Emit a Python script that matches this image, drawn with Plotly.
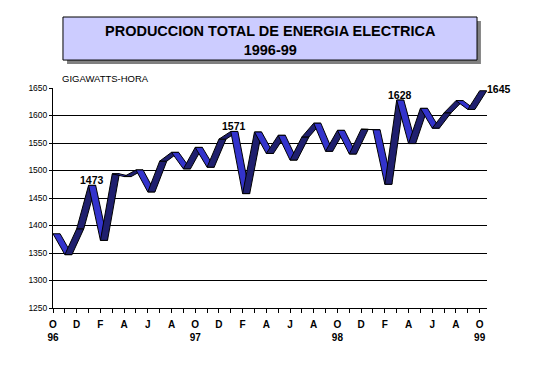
import plotly.graph_objects as go

# ---- data -------------------------------------------------------------
months = ["O96", "N96", "D96", "J97", "F97", "M97", "A97", "M97", "J97", "J97", "A97", "S97",
          "O97", "N97", "D97", "J98", "F98", "M98", "A98", "M98", "J98", "J98", "A98", "S98",
          "O98", "N98", "D98", "J99", "F99", "M99", "A99", "M99", "J99", "J99", "A99", "S99", "O99"]
values = [1385, 1347, 1394, 1473, 1373, 1494, 1489, 1501, 1461, 1517, 1533, 1503,
          1542, 1506, 1557, 1571, 1458, 1570, 1531, 1564, 1519, 1561, 1586, 1535,
          1573, 1530, 1575, 1574, 1475, 1628, 1549, 1613, 1577, 1605, 1627, 1611, 1645]
tick_letters = ["O", "D", "F", "A", "J", "A", "O", "D", "F", "A", "J", "A", "O", "D", "F", "A", "J", "A", "O"]
tick_years = {0: "96", 12: "97", 24: "98", 36: "99"}
labelled = {3: "1473", 15: "1571", 29: "1628"}
last_label = "1645"

DEPTH = 0.6            # ribbon depth, in months (horizontal offset)
FONT = "Arial, Liberation Sans, sans-serif"
DARK = "#1F1F6E"
LIGHT = "#3333CC"

fig = go.Figure()
x = list(range(len(values)))

# ribbon segments
for i in range(len(values) - 1):
    x0, x1 = x[i], x[i + 1]
    v0, v1 = values[i], values[i + 1]
    color = LIGHT if v1 < v0 else DARK
    fig.add_trace(go.Scatter(
        x=[x0, x1, x1 + DEPTH, x0 + DEPTH, x0],
        y=[v0, v1, v1, v0, v0],
        mode="lines", fill="toself", fillcolor=color,
        line=dict(color="black", width=1),
        hoverinfo="skip", showlegend=False))

# tick labels
tickvals = x
ticktext = []
for i in x:
    if i % 2 == 0:
        t = "<b>" + tick_letters[i // 2] + "</b>"
        if i in tick_years:
            t += "<br><b>" + tick_years[i] + "</b>"
        ticktext.append(t)
    else:
        ticktext.append("")

fig.update_layout(
    width=530, height=383,
    margin=dict(l=45, r=51, t=80, b=83),
    paper_bgcolor="white", plot_bgcolor="white",
    font=dict(family=FONT, color="black"),
    xaxis=dict(range=[0, 36 + DEPTH + 0.02], tickvals=tickvals, ticktext=ticktext,
               ticks="outside", ticklen=4, tickcolor="black", showgrid=False,
               showline=True, linecolor="black", linewidth=1, zeroline=False,
               ticklabelstandoff=3,
               tickfont=dict(size=10, family=FONT), tickangle=0),
    yaxis=dict(range=[1250, 1650], dtick=50, showgrid=True, gridcolor="black", gridwidth=1,
               showline=True, linecolor="black", linewidth=1, ticks="outside", ticklen=3,
               tickcolor="black", zeroline=False, tickfont=dict(size=8.5, family=FONT)),
)

# data labels
for i, txt in labelled.items():
    fig.add_annotation(x=x[i] + DEPTH / 2, y=values[i], text="<b>" + txt + "</b>",
                       showarrow=False, xanchor="center", yanchor="bottom", yshift=-3,
                       font=dict(size=10.5, family=FONT))
fig.add_annotation(x=x[-1] + DEPTH, y=values[-1], text="<b>" + last_label + "</b>",
                   showarrow=False, xanchor="left", yanchor="middle", xshift=-2, yshift=2,
                   font=dict(size=10.5, family=FONT))

# title box with shadow
fig.add_shape(type="rect", xref="paper", yref="paper", x0=0.0323, x1=0.986, y0=1.109, y1=1.3045,
              fillcolor="#808080", line=dict(width=0), layer="above")
fig.add_shape(type="rect", xref="paper", yref="paper", x0=0.023, x1=0.977, y0=1.127, y1=1.3227,
              fillcolor="#CCCCFF", line=dict(color="black", width=1), layer="above")
fig.add_annotation(xref="paper", yref="paper", x=0.5, y=1.217,
                   text="<b>PRODUCCION TOTAL DE ENERGIA ELECTRICA</b><br><b>1996-99</b>",
                   showarrow=False, xanchor="center", yanchor="middle",
                   font=dict(size=14.5, family=FONT))
fig.add_annotation(xref="paper", yref="paper", x=0.016, y=1.041, text="GIGAWATTS-HORA",
                   showarrow=False, xanchor="left", yanchor="middle",
                   font=dict(size=9.5, family=FONT))

fig.write_html("out.html")
